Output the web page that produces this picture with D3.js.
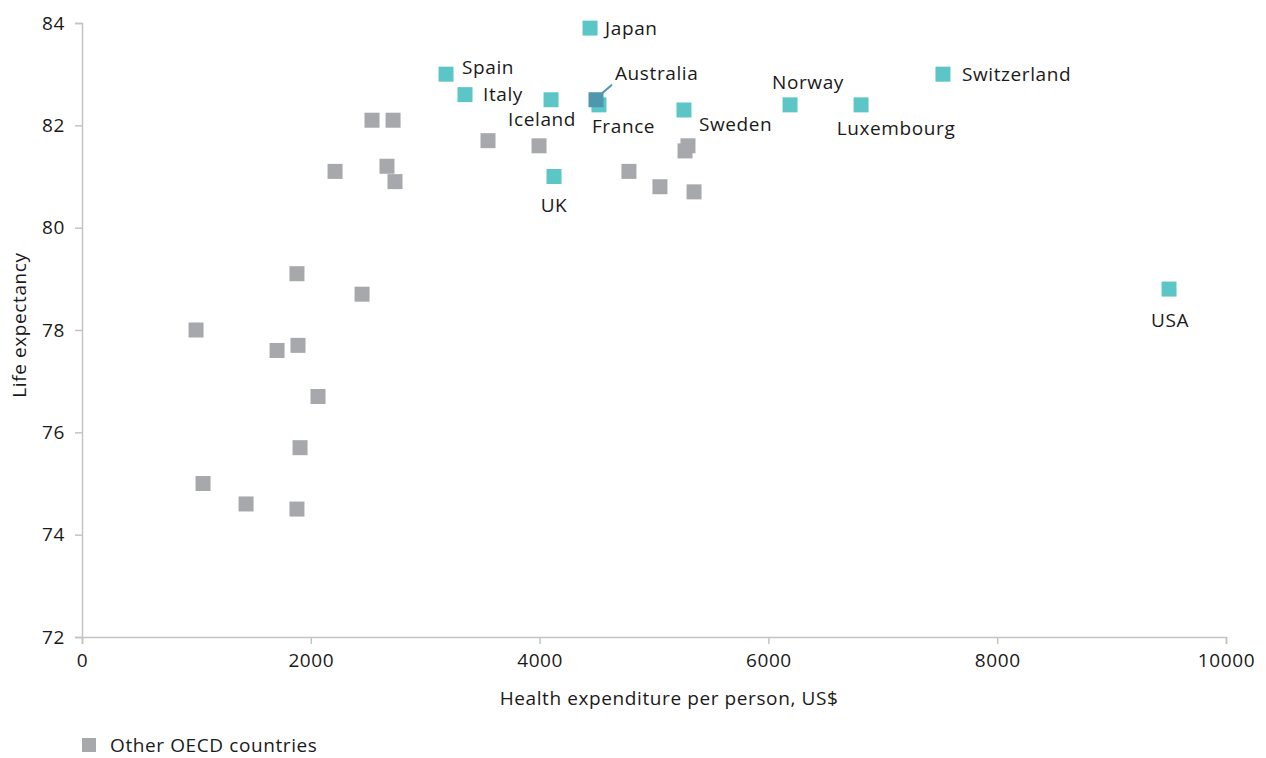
<!DOCTYPE html>
<html>
<head>
<meta charset="utf-8">
<script src="https://cdn.jsdelivr.net/npm/d3@7"></script>
<style>
  body { margin: 0; background: #fff; }
  svg text { font-family: "Open Sans", "Noto Sans", sans-serif; fill: #1a1a1a; letter-spacing: 0.6px; }
</style>
</head>
<body>
<svg id="chart" width="1266" height="758"></svg>
<script>
// other OECD countries (grey squares)
var otherSpend = [2535, 2719, 2212, 2666, 2736, 3549, 3995, 5297, 5271, 4781, 5052, 5350,
  1879, 2448, 997, 1705, 1888, 2063, 1906, 1058, 1434, 1879];
var otherLife = [82.1, 82.1, 81.1, 81.2, 80.9, 81.7, 81.6, 81.6, 81.5, 81.1, 80.8, 80.7,
  79.1, 78.7, 78.0, 77.6, 77.7, 76.7, 75.7, 75.0, 74.6, 74.5];

// named countries (teal squares)
var named = ['Japan', 'Spain', 'Italy', 'Iceland', 'France', 'Australia', 'Sweden', 'Norway',
  'Luxembourg', 'Switzerland', 'UK', 'USA'];
var namedSpend = [4441, 3182, 3348, 4100, 4519, 4493, 5262, 6189, 6810, 7526, 4126, 9502];
var namedLife = [83.9, 83.0, 82.6, 82.5, 82.4, 82.5, 82.3, 82.4, 82.4, 83.0, 81.0, 78.8];

var xTicks = [0, 2000, 4000, 6000, 8000, 10000];
var yTicks = [72, 74, 76, 78, 80, 82, 84];

// label placement: dx, dy from point centre, anchor
var labelPos = {
  Japan: [15, 0, 'start'],
  Spain: [16, -7, 'start'],
  Italy: [18, 0, 'start'],
  Iceland: [25, 20, 'end'],
  France: [-7, 21, 'start'],
  Australia: [19, -26, 'start'],
  Sweden: [15, 14, 'start'],
  Norway: [18, -23, 'middle'],
  Luxembourg: [35, 23, 'middle'],
  Switzerland: [19, 0, 'start'],
  UK: [0, 29, 'middle'],
  USA: [1, 31, 'middle']
};

var svg = d3.select('#chart');
var plotLeft = 82, plotRight = 1226, plotTop = 23, plotBottom = 637;
var size = 15;
var grey = '#a7a8ab', teal = '#5cc6c6', tealDark = '#4f97ad', axisCol = '#c4c4c4';

var x = d3.scaleLinear().domain([0, 10000]).range([plotLeft, plotRight]);
var y = d3.scaleLinear().domain([72, 84]).range([plotBottom, plotTop]);

// axes
var xAxis = svg.append('g')
  .attr('transform', `translate(0,${plotBottom})`)
  .call(d3.axisBottom(x).tickValues(xTicks).tickSize(7).tickPadding(10).tickFormat(d3.format('d')));
var yAxis = svg.append('g')
  .attr('transform', `translate(${plotLeft},0)`)
  .call(d3.axisLeft(y).tickValues(yTicks).tickSize(7).tickPadding(10));

[xAxis, yAxis].forEach(function (a) {
  a.select('.domain').attr('stroke', axisCol).attr('stroke-width', 1.5);
  a.selectAll('.tick line').attr('stroke', axisCol).attr('stroke-width', 1.5);
  a.selectAll('.tick text').style('font-size', '19px').style('font-family', null).attr('fill', '#1a1a1a');
});

// axis titles
svg.append('text')
  .attr('x', 669).attr('y', 705)
  .attr('text-anchor', 'middle')
  .style('font-size', '19px')
  .text('Health expenditure per person, US$');

svg.append('text')
  .attr('transform', 'translate(26,' + 325 + ') rotate(-90)')
  .attr('text-anchor', 'middle')
  .style('font-size', '19px')
  .text('Life expectancy');

// grey points
svg.append('g').selectAll('rect')
  .data(otherSpend)
  .enter().append('rect')
  .attr('x', (d, i) => x(d) - size / 2)
  .attr('y', (d, i) => y(otherLife[i]) - size / 2)
  .attr('width', size).attr('height', size)
  .attr('fill', grey);

// teal points
var ng = svg.append('g');
ng.selectAll('rect')
  .data(named)
  .enter().append('rect')
  .attr('x', (d, i) => x(namedSpend[i]) - size / 2)
  .attr('y', (d, i) => y(namedLife[i]) - size / 2)
  .attr('width', size).attr('height', size)
  .attr('fill', d => d == 'Australia' ? tealDark : teal);

// leader line for Australia
var ai = named.indexOf('Australia');
svg.append('line')
  .attr('x1', x(namedSpend[ai]) + 2).attr('y1', y(namedLife[ai]) - 3)
  .attr('x2', x(namedSpend[ai]) + 16).attr('y2', y(namedLife[ai]) - 15)
  .attr('stroke', tealDark).attr('stroke-width', 2);

// labels
ng.selectAll('text')
  .data(named)
  .enter().append('text')
  .attr('x', (d, i) => x(namedSpend[i]) + labelPos[d][0])
  .attr('y', (d, i) => y(namedLife[i]) + labelPos[d][1])
  .attr('dy', '0.35em')
  .attr('text-anchor', d => labelPos[d][2])
  .style('font-size', '19px')
  .text(d => d);

// legend
svg.append('rect')
  .attr('x', 82).attr('y', 738).attr('width', 14).attr('height', 14)
  .attr('fill', grey);
svg.append('text')
  .attr('x', 110).attr('y', 745).attr('dy', '0.35em')
  .style('font-size', '19px')
  .text('Other OECD countries');
</script>
</body>
</html>
